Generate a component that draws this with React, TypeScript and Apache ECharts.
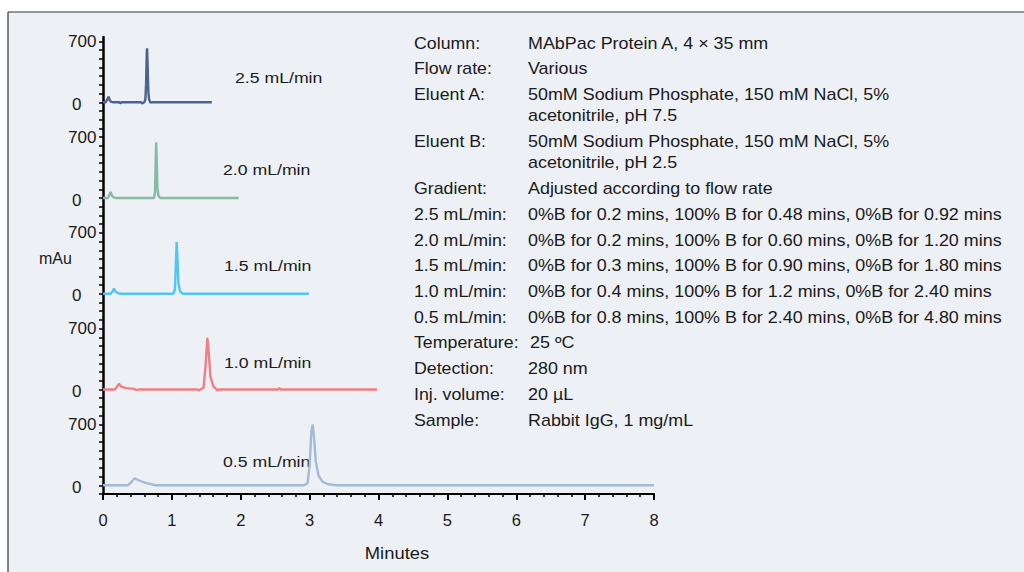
import React, { useEffect, useRef } from "react";
import * as echarts from "echarts";

// ---------- data ----------
const traceNames = ["0.5 mL/min", "1.0 mL/min", "1.5 mL/min", "2.0 mL/min", "2.5 mL/min"];
// vertical stacking offset (mAU) of each trace on the shared axis
const panelOffsets = [0, 1100, 2200, 3300, 4400];

const trace05: [number, number][] = [
  [0, 0], [0.36, 0], [0.41, 35], [0.46, 80], [0.52, 58], [0.6, 32], [0.68, 16], [0.73, 6], [0.78, 0],
  [2.92, 0], [2.97, 25], [3.0, 230], [3.025, 620], [3.045, 700], [3.065, 540], [3.09, 270], [3.13, 110],
  [3.19, 40], [3.27, 12], [3.38, 0], [8, 0],
];
const trace10: [number, number][] = [
  [0, 0], [0.17, 0], [0.2, 30], [0.23, 65], [0.27, 32], [0.33, 16], [0.45, 8], [0.49, -8], [0.51, 0],
  [1.37, 0], [1.39, -10], [1.41, 0], [1.46, 20], [1.49, 280], [1.515, 595], [1.535, 430], [1.56, 150],
  [1.6, 40], [1.64, 10], [1.66, -10], [1.68, 0], [2.54, 0], [2.56, 18], [2.58, 0], [3.98, 0],
];
const trace15: [number, number][] = [
  [0, 0], [0.11, 0], [0.14, 28], [0.16, 60], [0.18, 26], [0.22, 6], [0.27, 0],
  [1.02, 0], [1.045, 50], [1.06, 400], [1.07, 595], [1.08, 430], [1.095, 120], [1.12, 28], [1.16, 0], [2.99, 0],
];
const trace20: [number, number][] = [
  [0, 0], [0.07, 0], [0.09, 30], [0.11, 70], [0.13, 25], [0.16, 6], [0.2, 0],
  [0.74, 0], [0.755, 60], [0.765, 420], [0.772, 640], [0.78, 450], [0.79, 120], [0.805, 25], [0.83, 0], [1.97, 0],
];
const trace25: [number, number][] = [
  [0, 0], [0.04, 0], [0.06, 30], [0.08, 65], [0.1, 20], [0.12, 5], [0.16, 0], [0.24, 0], [0.25, -12], [0.27, 0],
  [0.55, 0], [0.57, -12], [0.6, 0], [0.615, 30], [0.625, 200], [0.635, 560], [0.64, 620], [0.648, 420],
  [0.658, 120], [0.67, 30], [0.69, -5], [0.71, 0], [1.58, 0],
];
const traces = [trace05, trace10, trace15, trace20, trace25];

const yPanelTickValues = [0, 700];
const yPanelTickLabels = ["0", "700"];

const conditionLabels = [
  "Column:", "Flow rate:", "Eluent A:", "Eluent B:", "Gradient:",
  "2.5 mL/min:", "2.0 mL/min:", "1.5 mL/min:", "1.0 mL/min:", "0.5 mL/min:",
  "Temperature:", "Detection:", "Inj. volume:", "Sample:",
];
const conditionValues = [
  "MAbPac Protein A, 4 × 35 mm",
  "Various",
  "50mM Sodium Phosphate, 150 mM NaCl, 5%\nacetonitrile, pH 7.5",
  "50mM Sodium Phosphate, 150 mM NaCl, 5%\nacetonitrile, pH 2.5",
  "Adjusted according to flow rate",
  "0%B for 0.2 mins, 100% B for 0.48 mins, 0%B for 0.92 mins",
  "0%B for 0.2 mins, 100% B for 0.60 mins, 0%B for 1.20 mins",
  "0%B for 0.3 mins, 100% B for 0.90 mins, 0%B for 1.80 mins",
  "0%B for 0.4 mins, 100% B for 1.2 mins, 0%B for 2.40 mins",
  "0%B for 0.8 mins, 100% B for 2.40 mins, 0%B for 4.80 mins",
  "25 ºC",
  "280 nm",
  "20 µL",
  "Rabbit IgG, 1 mg/mL",
];

// ---------- styles / layout ----------
const traceColors = ["#a3bbd7", "#f07e83", "#52c5f2", "#88b9a5", "#4a648c"];
const traceLabelPos: [number, number][] = [[223, 462], [224, 363], [224, 266], [223, 170], [235, 78]];
const FONT = "'Liberation Sans', Arial, Helvetica, sans-serif";
const TEXT = "#1a1a1a";

export default function App() {
  const ref = useRef<HTMLDivElement>(null);

  useEffect(() => {
    if (!ref.current) return;
    const chart = echarts.init(ref.current, undefined, { renderer: "svg" });

    const series = traces.map((tr, i) => ({
      type: "line",
      name: traceNames[i],
      data: tr.map(([t, v]) => [t, v + panelOffsets[i]]),
      showSymbol: false,
      symbol: "none",
      silent: true,
      lineStyle: { color: traceColors[i], width: 2.4 },
      itemStyle: { color: traceColors[i] },
      z: 3 + i,
    }));

    const graphics: any[] = [
      { type: "rect", z: -10, shape: { x: 8, y: 12, width: 1100, height: 600 }, style: { fill: "#edf0f5" } },
      { type: "line", z: 1, shape: { x1: 8, y1: 12, x2: 1024, y2: 12 }, style: { stroke: "#333", lineWidth: 1.2 } },
      { type: "line", z: 1, shape: { x1: 8, y1: 12, x2: 8, y2: 572 }, style: { stroke: "#333", lineWidth: 1.2 } },
      {
        type: "text", x: 39, y: 258,
        style: { text: "mAu", fontFamily: FONT, fontSize: 16, fill: TEXT, textVerticalAlign: "middle" },
      },
      {
        type: "text", x: 397, y: 553, scaleX: 1.15,
        style: { text: "Minutes", fontFamily: FONT, fontSize: 16, fill: TEXT, textAlign: "center", textVerticalAlign: "middle" },
      },
    ];

    traceNames.forEach((name, i) => {
      graphics.push({
        type: "text", x: traceLabelPos[i][0], y: traceLabelPos[i][1], scaleX: 1.14,
        style: { text: name, fontFamily: FONT, fontSize: 15.5, fill: TEXT, textVerticalAlign: "middle" },
      });
    });

    const LH = 21.3;
    let extra = 0;
    conditionLabels.forEach((lab, i) => {
      const cy = 43.5 + i * 25.71 + extra * LH;
      const val = conditionValues[i];
      graphics.push({
        type: "text", x: 414, y: cy - LH / 2, scaleX: 1.11,
        style: { text: lab, fontFamily: FONT, fontSize: 16, fill: TEXT, textVerticalAlign: "top", lineHeight: LH },
      });
      graphics.push({
        type: "text", x: lab === "Temperature:" ? 530 : 528, y: cy - LH / 2, scaleX: 1.12,
        style: { text: val, fontFamily: FONT, fontSize: 16, fill: TEXT, textVerticalAlign: "top", lineHeight: LH },
      });
      extra += val.split("\n").length - 1;
    });

    chart.setOption({
      animation: false,
      backgroundColor: "#ffffff",
      grid: { left: 103, right: 370, top: 37, bottom: 78, containLabel: false },
      xAxis: {
        type: "value",
        min: 0,
        max: 8,
        interval: 1,
        axisLine: { show: true, onZero: false, lineStyle: { color: "#000", width: 2.2 } },
        axisTick: { show: true, length: 6, lineStyle: { color: "#000", width: 2 } },
        minorTick: { show: true, splitNumber: 5, length: 3, lineStyle: { color: "#000", width: 1.5 } },
        splitLine: { show: false },
        minorSplitLine: { show: false },
        axisLabel: { fontFamily: FONT, fontSize: 16.5, color: TEXT, margin: 17 },
      },
      yAxis: {
        type: "value",
        min: -100,
        max: 5150,
        interval: 100,
        axisLine: { show: true, lineStyle: { color: "#000", width: 2.5 } },
        axisTick: { show: true, length: 4, lineStyle: { color: "#000", width: 1.5 } },
        splitLine: { show: false },
        axisLabel: {
          show: true,
          align: "left",
          margin: 35,
          fontFamily: FONT,
          fontSize: 17,
          color: TEXT,
          showMaxLabel: false,
          formatter: (v: number) => {
            for (const off of panelOffsets) {
              for (let k = 0; k < yPanelTickValues.length; k++) {
                if (Math.abs(v - off - yPanelTickValues[k]) < 1e-6) {
                  const lab = yPanelTickLabels[k];
                  return lab.length === 1 ? "{z|" + lab + "}" : lab;
                }
              }
            }
            return "";
          },
          rich: { z: { fontFamily: FONT, fontSize: 17, color: TEXT, padding: [4, 0, 0, 4] } },
        },
      },
      series,
      graphic: graphics,
    } as any);

    return () => chart.dispose();
  }, []);

  return (
    <div
      ref={ref}
      style={{ position: "fixed", left: 0, top: 0, width: 1024, height: 572 }}
    />
  );
}
